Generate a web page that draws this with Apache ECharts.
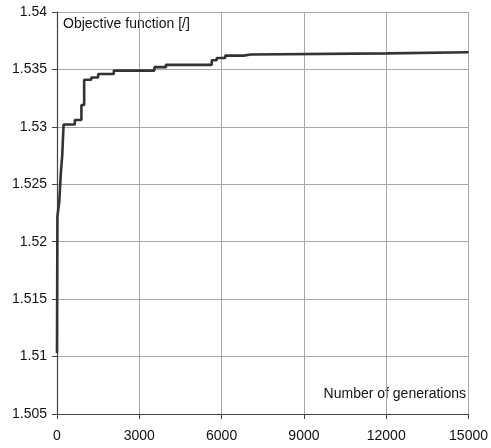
<!DOCTYPE html>
<html>
<head>
<meta charset="utf-8">
<script src="https://cdn.jsdelivr.net/npm/echarts@6/dist/echarts.min.js"></script>
<style>
html,body{margin:0;padding:0;background:#fff;}
#c{width:491px;height:448px;}
</style>
</head>
<body>
<div id="c"></div>
<script>
var generations = [0, 15, 83, 140, 190, 240, 650, 890, 990, 1250, 1500, 2070, 3550, 3970, 5640, 5820, 6130, 6810, 7050, 12040, 15000];
var objective = [1.5103, 1.5222, 1.5235, 1.5260, 1.5275, 1.5302, 1.5306, 1.5319, 1.5341, 1.5343, 1.5346, 1.5349, 1.5352, 1.5354, 1.5358, 1.5360, 1.5362, 1.5363, 1.5364, 1.5365, 1.5365];
var yTitle = 'Objective function [/]';
var xTitle = 'Number of generations';

var data = generations.map(function (g, i) { return [g, objective[i]]; });
var chart = echarts.init(document.getElementById('c'));
var font = 'Liberation Sans, Arial, sans-serif';
chart.setOption({
  animation: false,
  backgroundColor: '#fff',
  grid: { left: 57, right: 20, top: 12, bottom: 34, containLabel: false },
  xAxis: {
    type: 'value', min: 0, max: 15000, interval: 3000,
    axisLine: { show: true, lineStyle: { color: '#444', width: 1.2 } },
    axisTick: { show: true, length: 5, lineStyle: { color: '#444' } },
    axisLabel: { color: '#111', fontFamily: font, fontSize: 14, margin: 15,
      formatter: function (v) { return String(v); } },
    splitLine: { show: true, lineStyle: { color: '#a8a8a8', width: 1 } }
  },
  yAxis: {
    type: 'value', min: 1.505, max: 1.54, interval: 0.005,
    axisLine: { show: true, lineStyle: { color: '#444', width: 1.2 } },
    axisTick: { show: true, length: 5, lineStyle: { color: '#444' } },
    axisLabel: { color: '#111', fontFamily: font, fontSize: 14, margin: 10,
      formatter: function (v) { return String(parseFloat(v.toFixed(3))); } },
    splitLine: { show: true, lineStyle: { color: '#a8a8a8', width: 1 } }
  },
  graphic: [
    { type: 'text', left: 63, top: 17, style: { text: yTitle, fill: '#111', font: '14px ' + font } },
    { type: 'text', right: 25, top: 387, style: { text: xTitle, fill: '#111', font: '14px ' + font } }
  ],
  series: [{
    type: 'line', step: 'end', data: data, showSymbol: false,
    lineStyle: { color: '#333', width: 2.6 }
  }]
});
</script>
</body>
</html>
